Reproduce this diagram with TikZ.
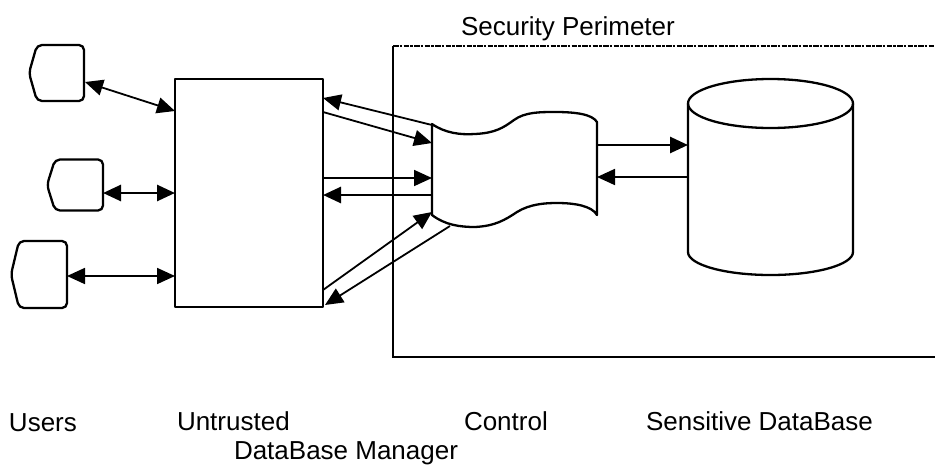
\documentclass[tikz,border=0pt]{standalone}
\usepackage{fontspec}
\setmainfont{Liberation Sans}
\usetikzlibrary{arrows.meta,calc}
\tikzset{
  outline/.style={line width=2.3pt, line join=round},
  holder/.style={draw=none, inner sep=0pt, outer sep=0pt},
  tip/.tip={Triangle[length=18pt,width=16pt]},
  link/.style={line width=1.8pt, -tip},
  biolink/.style={line width=1.8pt, tip-tip},
  heavy/.style={line width=2.7pt},
  txt/.style={font=\fontsize{26pt}{31pt}\selectfont, inner sep=0pt, outer sep=0pt, anchor=base west},
  perimtop/.style={line width=2.5pt, dash pattern=on 5.5pt off 1.2pt on 2.6pt off 1.2pt},
  perimside/.style={line width=2.6pt}
}
\newcommand\userterm[5]{%
  \node[holder, minimum width=#4, minimum height=#5] (#1) at (#2,#3) {};
  \draw[outline, rounded corners=5pt] (#1.west) -- ($(#1.north west)+(8,0)$) -- (#1.north east)
     -- (#1.south east) -- ($(#1.south west)+(8,0)$) -- cycle;
}
\begin{document}
\begin{tikzpicture}[x=1pt, y=-1pt]
\useasboundingbox (0,0) rectangle (935,464);

% security perimeter
\draw[perimtop] (393,46) -- (945,46);
\draw[perimside] (393,46) -- (393,357) -- (945,357);

% users
\userterm{u1}{56.5}{73}{55pt}{56pt}
\userterm{u2}{75}{185}{56pt}{51pt}
\userterm{u3}{39}{274.5}{56pt}{67pt}

% untrusted DBMS
\node[draw, outline, inner sep=0pt, outer sep=0pt, minimum width=148pt, minimum height=228pt] (untr) at (249,193) {};

% control (wavy shape)
\node[holder, minimum width=165pt, minimum height=91pt] (ctl) at (514.5,169.5) {};
\draw[outline] (432,124) .. controls (445,133) and (460,135) .. (475,134)
  .. controls (495,133) and (503,128) .. (514,120)
  .. controls (525,112) and (540,112) .. (555,112)
  .. controls (575,112) and (592,114) .. (597,122)
  -- (597,215)
  .. controls (592,206) and (575,203) .. (557,203)
  .. controls (545,203) and (530,204) .. (517,212)
  .. controls (505,220) and (495,226) .. (475,227)
  .. controls (460,227) and (445,225) .. (432,215) -- cycle;

% database cylinder
\node[holder, minimum width=165pt, minimum height=196pt] (db) at (770.5,177) {};
\draw[outline] (770.5,103.5) ellipse [x radius=82.5pt, y radius=24.5pt];
\draw[outline] (688,103.5) -- (688,252) arc[start angle=180, end angle=360, x radius=82.5pt, y radius=23pt] -- (853,103.5);

% users <-> untrusted
\draw[biolink] ($(u1.east)+(1,9)$) -- ($(untr.west)+(0,-82)$);
\draw[biolink, heavy] ($(u2.east)+(0,8)$) -- (untr.west);
\draw[biolink] ($(u3.east)+(0,1.5)$) -- ($(untr.west)+(0,83)$);

% untrusted <-> control
\draw[link] ($(ctl.west)+(0,-44.5)$) -- ($(untr.east)+(0,-95)$);
\draw[link] ($(untr.east)+(0,-81)$) -- ($(ctl.west)+(0,-26.5)$);
\draw[link] ($(untr.east)+(0,-15)$) -- ($(ctl.west)+(0,8.5)$);
\draw[link, heavy] ($(ctl.west)+(0,25.5)$) -- ($(untr.east)+(0,2)$);
\draw[link] ($(untr.east)+(0,97)$) -- ($(ctl.west)+(0,42.5)$);
\draw[link] ($(ctl.south west)+(18,11)$) -- ($(untr.south east)+(2,-2)$);

% control <-> database
\draw[link, heavy] ($(ctl.east)+(0,-24.5)$) -- ($(db.west)+(0,-32)$);
\draw[link] (db.west) -- ($(ctl.east)+(0,7.5)$);

% labels
\node[txt] (tsp) at (461,35) {Security Perimeter};
\node[txt] (tusers) at (9,431) {Users};
\node[txt] (tuntr) at (177,430) {Untrusted};
\node[txt] (tdbm) at (234,459) {DataBase Manager};
\node[txt] (tctl) at (464,430) {Control};
\node[txt] (tsdb) at (646,430) {Sensitive DataBase};
\end{tikzpicture}
\end{document}
